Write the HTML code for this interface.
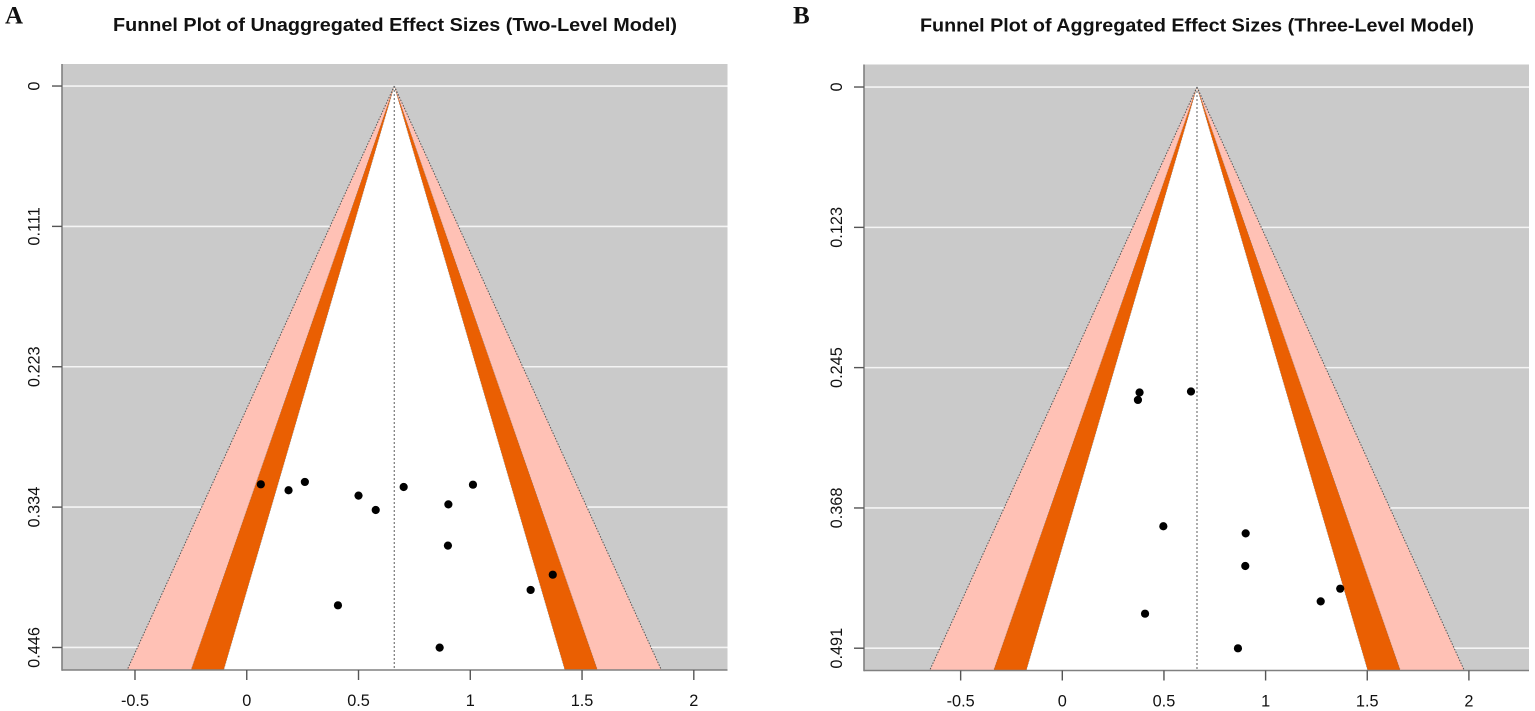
<!DOCTYPE html>
<html lang="en">
<head>
<meta charset="utf-8">
<title>Funnel Plots of Effect Sizes</title>
<style>
html,body{margin:0;padding:0;background:#fff;width:1535px;height:711px;overflow:hidden}
svg{display:block;filter:blur(0.3px)}
text{font-family:"Liberation Sans",sans-serif}
</style>
</head>
<body>
<svg id="figure" xmlns="http://www.w3.org/2000/svg" width="1535" height="711" viewBox="0 0 1535 711">
  <text x="5" y="23.5" font-size="25" font-weight="700" fill="#111" style="font-family:'Liberation Serif',serif">A</text>
  <text x="793" y="23.3" font-size="25" font-weight="700" fill="#111" style="font-family:'Liberation Serif',serif">B</text>
  <text x="395" y="31" text-anchor="middle" font-size="18" font-weight="700" fill="#111" textLength="564" lengthAdjust="spacingAndGlyphs">Funnel Plot of Unaggregated Effect Sizes (Two-Level Model)</text>
  <text x="1197" y="31.7" text-anchor="middle" font-size="18" font-weight="700" fill="#111" textLength="554" lengthAdjust="spacingAndGlyphs">Funnel Plot of Aggregated Effect Sizes (Three-Level Model)</text>
</svg>
<script>
// Panel A data
const effectSizesA = [0.063, 0.187, 0.26, 0.50, 0.577, 0.408, 0.702, 1.012, 0.902, 0.90, 1.369, 1.27, 0.863];
const standardErrorsA = [0.3164, 0.3211, 0.3145, 0.3254, 0.3368, 0.4125, 0.3185, 0.3167, 0.3323, 0.3651, 0.3882, 0.4003, 0.4461];
const centerEstimateA = 0.66;
const yTickValuesA = [0, 0.1115, 0.223, 0.3345, 0.446];
const yTickLabelsA = ['0', '0.111', '0.223', '0.334', '0.446'];
const xDomainA = [-0.8265, 2.1507];
const yDomainA = [-0.0175, 0.4639];

// Panel B data
const effectSizesB = [0.38, 0.372, 0.633, 0.497, 0.902, 0.90, 1.367, 1.271, 0.407, 0.864];
const standardErrorsB = [0.2673, 0.2738, 0.2664, 0.3843, 0.3905, 0.4191, 0.4389, 0.45, 0.4608, 0.4911];
const centerEstimateB = 0.6625;
const yTickValuesB = [0, 0.1228, 0.2455, 0.3683, 0.491];
const yTickLabelsB = ['0', '0.123', '0.245', '0.368', '0.491'];
const xDomainB = [-0.9754, 2.2956];
const yDomainB = [-0.0197, 0.5105];

// Shared data
const xTickValues = [-0.5, 0, 0.5, 1, 1.5, 2];
const xTickLabels = ['-0.5', '0', '0.5', '1', '1.5', '2'];
const zOuter = 2.576;
const zMiddle = 1.96;
const zInner = 1.645;

const svg = document.getElementById('figure');
const NS = 'http://www.w3.org/2000/svg';

function make(tag, attrs, parent) {
  const el = document.createElementNS(NS, tag);
  for (const k in attrs) el.setAttribute(k, attrs[k]);
  parent.appendChild(el);
  return el;
}

function drawPanel(box, xDomain, yDomain, center, xs, ys, yVals, yLabs, labelX, xLabelY) {
  const sx = v => box.left + (v - xDomain[0]) / (xDomain[1] - xDomain[0]) * (box.right - box.left);
  const sy = v => box.top + (v - yDomain[0]) / (yDomain[1] - yDomain[0]) * (box.bottom - box.top);
  const yMax = yDomain[1];
  const tri = z => [
    sx(center) + ',' + sy(0),
    sx(center - z * yMax) + ',' + sy(yMax),
    sx(center + z * yMax) + ',' + sy(yMax)
  ].join(' ');

  const bg = make('rect', {x: box.left, y: box.top, width: box.right - box.left, height: box.bottom - box.top, fill: '#cacaca'}, svg);
  
  

  yVals.forEach(function (v) {
    const grid = make('line', {x1: box.left, x2: box.right, y1: sy(v), y2: sy(v), stroke: '#f4f4f4', 'stroke-width': 1.6}, svg);
    
    
  });

  const outer = make('polygon', {points: tri(zOuter), fill: '#ffc1b5'}, svg);
  
  

  const middle = make('polygon', {points: tri(zMiddle), fill: '#ea5f02'}, svg);
  
  

  const inner = make('polygon', {points: tri(zInner), fill: '#ffffff'}, svg);
  
  

  [zMiddle, -zMiddle, zInner, -zInner].forEach(function (z) {
    const band = make('line', {x1: sx(center), y1: sy(0), x2: sx(center + z * yMax), y2: sy(yMax), stroke: '#777', 'stroke-width': 0.8, 'stroke-dasharray': '1.5 1.5', 'stroke-opacity': 0.55}, svg);
    
    
  });

  [zOuter, -zOuter].forEach(function (z) {
    const edge = make('line', {x1: sx(center), y1: sy(0), x2: sx(center + z * yMax), y2: sy(yMax), stroke: '#555', 'stroke-width': 1, 'stroke-dasharray': '1.5 1.5'}, svg);
    
    
  });

  const centerLine = make('line', {x1: sx(center), y1: sy(0), x2: sx(center), y2: sy(yMax), stroke: '#777', 'stroke-width': 1.2, 'stroke-dasharray': '2 2'}, svg);
  
  

  xs.forEach(function (x, i) {
    const pt = make('circle', {cx: sx(x), cy: sy(ys[i]), r: 4.1, fill: '#000'}, svg);
    
    
  });

  const yAxis = make('line', {x1: box.left, x2: box.left, y1: box.top, y2: box.bottom + 0.75, stroke: '#808080', 'stroke-width': 1.6}, svg);
  
  

  const xAxis = make('line', {x1: box.left, x2: box.right, y1: box.bottom, y2: box.bottom, stroke: '#808080', 'stroke-width': 1.6}, svg);
  
  

  yVals.forEach(function (v, i) {
    const tick = make('line', {x1: box.left - 10, x2: box.left, y1: sy(v), y2: sy(v), stroke: '#555', 'stroke-width': 1.4}, svg);
    
    
    const label = make('text', {x: labelX, y: sy(v), 'text-anchor': 'middle', 'font-size': 16.3, fill: '#111', transform: 'rotate(-90 ' + labelX + ' ' + sy(v) + ')'}, svg);
    label.textContent = yLabs[i];
    
    
  });

  xTickValues.forEach(function (v, i) {
    const tick = make('line', {x1: sx(v), x2: sx(v), y1: box.bottom, y2: box.bottom + 10, stroke: '#555', 'stroke-width': 1.4}, svg);
    
    
    const label = make('text', {x: sx(v), y: xLabelY, 'text-anchor': 'middle', 'font-size': 16.3, fill: '#111'}, svg);
    label.textContent = xTickLabels[i];
    
    
  });
}

drawPanel({left: 62, right: 727.5, top: 64, bottom: 670}, xDomainA, yDomainA, centerEstimateA, effectSizesA, standardErrorsA, yTickValuesA, yTickLabelsA, 39.3, 706);
drawPanel({left: 864, right: 1529, top: 64.5, bottom: 670.5}, xDomainB, yDomainB, centerEstimateB, effectSizesB, standardErrorsB, yTickValuesB, yTickLabelsB, 842, 706.5);
</script>
</body>
</html>
